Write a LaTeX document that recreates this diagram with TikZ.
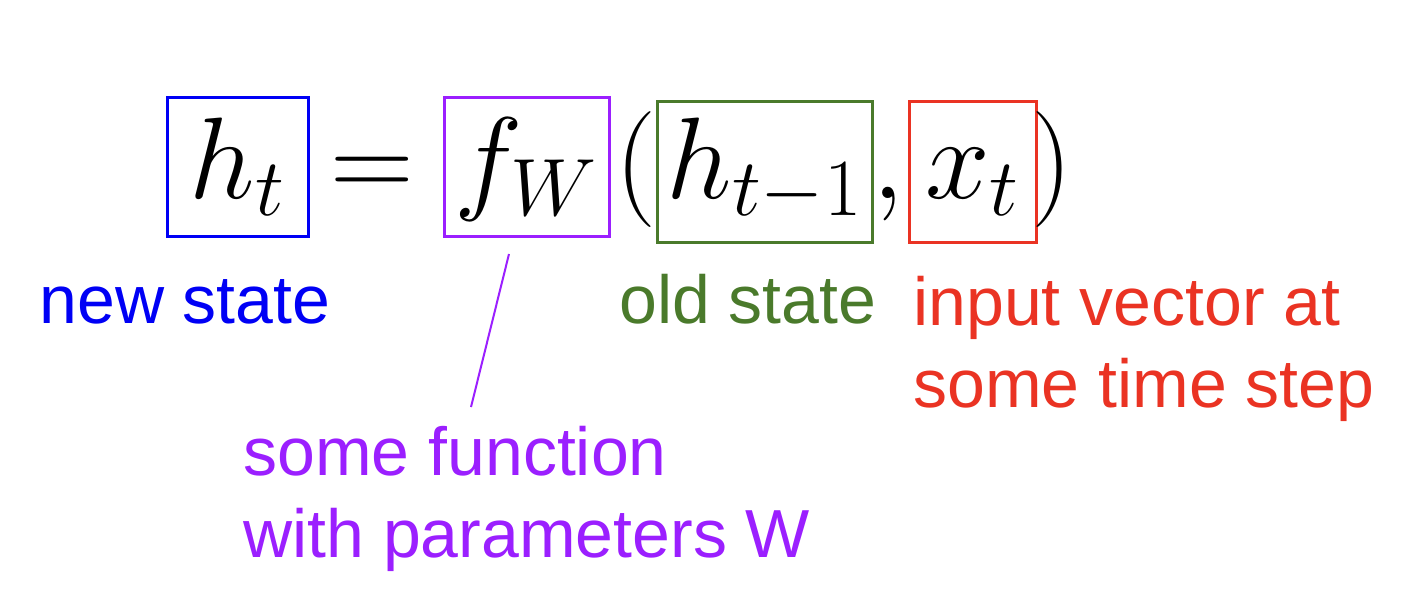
\RequirePackage{fix-cm}
\documentclass[tikz,border=0pt]{standalone}
\usepackage{fontspec}
\setmainfont{Liberation Sans}
\usepackage{tikz}
\usetikzlibrary{positioning,calc}
\definecolor{rnnNew}{HTML}{0000F5}
\definecolor{rnnFn}{HTML}{9B1FFF}
\definecolor{rnnOld}{HTML}{4A7A2B}
\definecolor{rnnIn}{HTML}{EA3323}
\tikzset{
    rnnTerm/.style={
        draw,
        line width=1.5pt,
        inner sep=0pt,
        anchor=base,
        font=\fontsize{58}{60}\selectfont
    },
    rnnSym/.style={
        inner sep=0pt,
        anchor=base,
        font=\fontsize{58}{60}\selectfont
    },
    % upper terms and lower terms
    rnnUp/.style={rnnTerm, text height=50.5pt, text depth=19.25pt},
    rnnLow/.style={rnnTerm, text height=48.5pt, text depth=22pt},
    rnnLabel/.style={
        inner sep=0pt,
        anchor=base west,
        align=left,
        font=\fontsize{34}{41}\selectfont
    }
}
\begin{document}
\begin{tikzpicture}[x=0.5pt, y=-0.5pt]
\useasboundingbox (0,0) rectangle (1412,612);
\node[rnnUp, draw=rnnNew, minimum width=70.5pt] (newBox) at (237.5,198) {$h_t$};
\node[rnnSym] (eqSign) at (372,198) {$=$};
\node[rnnUp, draw=rnnFn, minimum width=82.5pt] (fnBox) at (526.5,198) {$f_W$};
\node[rnnSym] (lParen) at (636,198) {$($};
\node[rnnLow, draw=rnnOld, minimum width=107.5pt] (oldBox) at (764.5,198) {$h_{t-1}$};
\node[rnnSym] (comma) at (888,198) {$,$};
\node[rnnLow, draw=rnnIn, minimum width=63.5pt] (inBox) at (972.5,198) {$x_t$};
\node[rnnSym] (rParen) at (1052,198) {$)$};

% two-line labels sit on their last line
\node[rnnLabel, text=rnnNew] (newLabel) at (39,323) {new state};
\node[rnnLabel, text=rnnOld] (oldLabel) at (619,323) {old state};
\node[rnnLabel, text=rnnIn] (inLabel) at (913,407) {input vector at\\some time step};
\node[rnnLabel, text=rnnFn] (fnLabel) at (243,557) {some function\\with parameters W};

\coordinate (fnTop) at ($(fnBox.south)+(-17.5,16)$);
\coordinate (fnTip) at (471,407);
\draw[rnnFn, line width=1pt] (fnTop) -- (fnTip);
\end{tikzpicture}
\end{document}
